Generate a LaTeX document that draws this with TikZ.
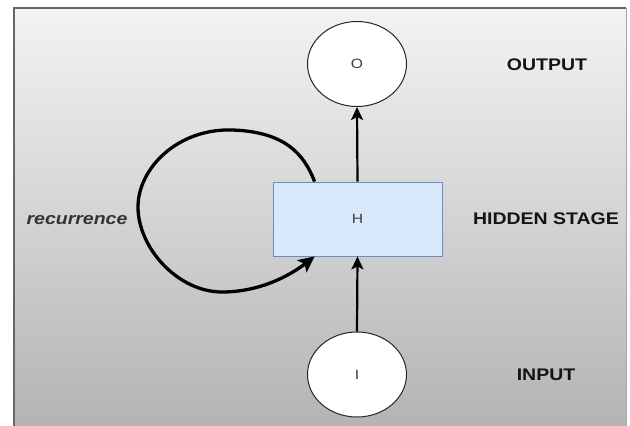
\documentclass[tikz,border=0pt]{standalone}
\usepackage{fontspec}
\setmainfont{Liberation Sans}
\usetikzlibrary{arrows.meta,calc,shapes.geometric}

\definecolor{boxfill}{HTML}{DAE8FC}
\definecolor{boxline}{HTML}{6C8EBF}
\definecolor{paneltop}{HTML}{F3F3F3}
\definecolor{panelbot}{HTML}{B4B4B4}
\definecolor{labeltext}{HTML}{141414}
\definecolor{nodetext}{HTML}{3C3C3C}

% text is set a little wider than tall
\newcommand{\widetext}[1]{\scalebox{1.16}[1]{#1}}

\tikzset{
  unit/.style={ellipse, draw=black!85, line width=1pt, fill=white,
    minimum width=99pt, minimum height=85pt, inner sep=0pt,
    text=nodetext, font=\fontsize{13.5}{15}\selectfont},
  hiddenbox/.style={rectangle, draw=boxline, line width=0.8pt, fill=boxfill,
    minimum width=169pt, minimum height=74pt, inner sep=0pt,
    text=nodetext, font=\fontsize{13.5}{15}\selectfont},
  stagelabel/.style={text=labeltext, font=\bfseries\fontsize{16.8}{19}\selectfont},
  flow/.style={line width=2.2pt, -{Stealth[length=13pt,width=12pt,inset=3pt]}},
  loopflow/.style={line width=3.3pt, -{Stealth[length=16pt,width=15pt,inset=3.5pt]}},
}

\begin{document}
\begin{tikzpicture}[x=1pt,y=-1pt]
  \useasboundingbox (0,0) rectangle (630,426);
  \fill[white] (0,0) rectangle (630,426);
  % gradient panel with its frame
  \shade[top color=paneltop, bottom color=panelbot] (14,8) rectangle (626,426);
  \draw[black!60, line width=1.5pt] (14,426) -- (14,8) -- (626,8);
  \draw[black!35, line width=1pt] (626,8) -- (626,426);

  % units
  \node[unit] (O) at (357,64) {\widetext{O}};
  \node[hiddenbox] (H) at (357.5,219) {\widetext{H}};
  \node[unit] (I) at (357,374.5) {\widetext{I}};

  % side labels
  \node[stagelabel] (lo) at (547,65) {\widetext{OUTPUT}};
  \node[stagelabel] (lh) at (546,219) {\widetext{HIDDEN STAGE}};
  \node[stagelabel] (li) at (546,375) {\widetext{INPUT}};
  \node[text=black!80, font=\bfseries\itshape\fontsize{16.8}{19}\selectfont] (lr) at (77,220) {\widetext{recurrence}};

  % forward connections
  \draw[flow] (I.north) -- (H.south);
  \draw[flow] (H.north) -- (O.south);

  % recurrent loop on the hidden stage
  \coordinate (rs) at ($(H.north west)+(42,0)$);
  \coordinate (re) at ($(H.south west)+(42,0)$);
  \draw[loopflow] (rs) .. controls (304,154) and (285,132) .. (233,130)
    .. controls (178,128) and (138,168) .. (138,207)
    .. controls (138,248) and (178,292) .. (222,292)
    .. controls (258,292) and (288,277) .. (re);
\end{tikzpicture}
\end{document}
